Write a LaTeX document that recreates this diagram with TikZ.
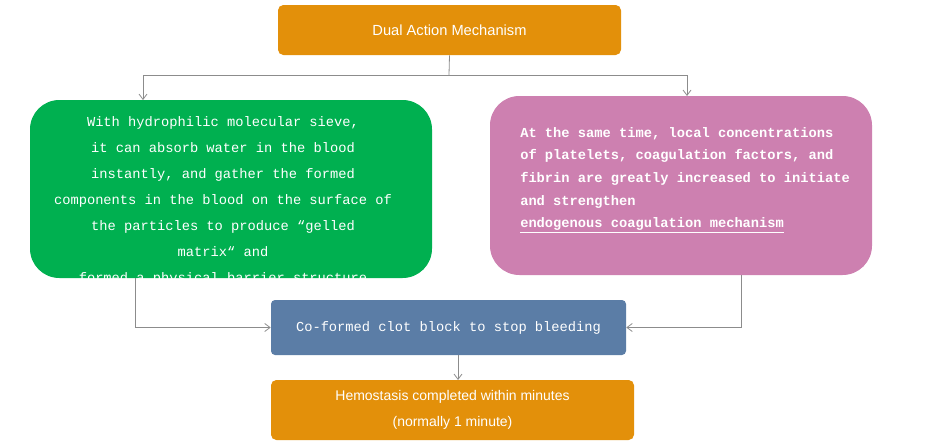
\documentclass[tikz,border=0pt]{standalone}
\usepackage{fontspec}
\setmainfont{Liberation Sans}
\newfontfamily\monof{Liberation Mono}
\usetikzlibrary{arrows.meta}
\definecolor{ttl}{HTML}{E3900A}
\definecolor{grn}{HTML}{00B050}
\definecolor{pnk}{HTML}{CD80B0}
\definecolor{blu}{HTML}{5B7DA6}
\definecolor{lnk}{HTML}{8C8C8C}
\begin{document}
\begin{tikzpicture}[x=0.75pt,y=-0.75pt,
 box/.style={draw=none,text=white,inner sep=0pt},
 conn/.style={draw=lnk,line width=0.6pt,-{Straight Barb[length=4pt,width=6pt]}}]
\useasboundingbox (0,0) rectangle (933,443);
\node[box,fill=ttl,rounded corners=4pt,minimum width=343*0.75pt,minimum height=50*0.75pt,font=\fontsize{11}{13}\selectfont] (t) at (449.5,30) {Dual Action Mechanism};
\node[box,fill=grn,rounded corners=22pt,minimum width=402*0.75pt,minimum height=178*0.75pt] (g) at (231,189) {};
\begin{scope}
\clip[rounded corners=22pt] (30,100) rectangle (432,278);
\node[text=white,align=center,font=\monof\fontsize{10.3}{19.5}\selectfont,anchor=north] at (223,112) {With hydrophilic molecular sieve,\\ it can absorb water in the blood\\ instantly, and gather the formed\\components in the blood on the surface of\\the particles to produce “gelled\\matrix“ and\\formed a physical barrier structure};
\end{scope}
\node[box,fill=pnk,rounded corners=22pt,minimum width=382*0.75pt,minimum height=179*0.75pt] (p) at (681,185.5) {};
\node[text=white,align=left,font=\monof\bfseries\fontsize{10.3}{17}\selectfont,anchor=north west,inner sep=0pt] at (520,127) {At the same time, local concentrations\\of platelets, coagulation factors, and\\fibrin are greatly increased to initiate\\and strengthen\\\underline{endogenous coagulation mechanism}};
\node[box,fill=blu,rounded corners=3pt,minimum width=355*0.75pt,minimum height=55*0.75pt,font=\monof\fontsize{10.3}{12}\selectfont] (b) at (448.5,327.5) {Co-formed clot block to stop bleeding};
\node[box,fill=ttl,rounded corners=4pt,minimum width=363*0.75pt,minimum height=60*0.75pt,align=center,font=\fontsize{10.5}{19}\selectfont] (h) at (452.5,410) {Hemostasis completed within minutes\\(normally 1 minute)};
\coordinate (j) at (449,75);
\draw[lnk,line width=0.6pt] (t.south) -- (j);
\draw[conn] (j) -| (143,100);
\draw[conn] (j) -| (687,96);
\draw[conn] (135,278) |- (b.west);
\draw[conn] (741,275) |- (b.east);
\draw[conn] (b.south -| 458,0) -- (458,380);
\end{tikzpicture}
\end{document}
